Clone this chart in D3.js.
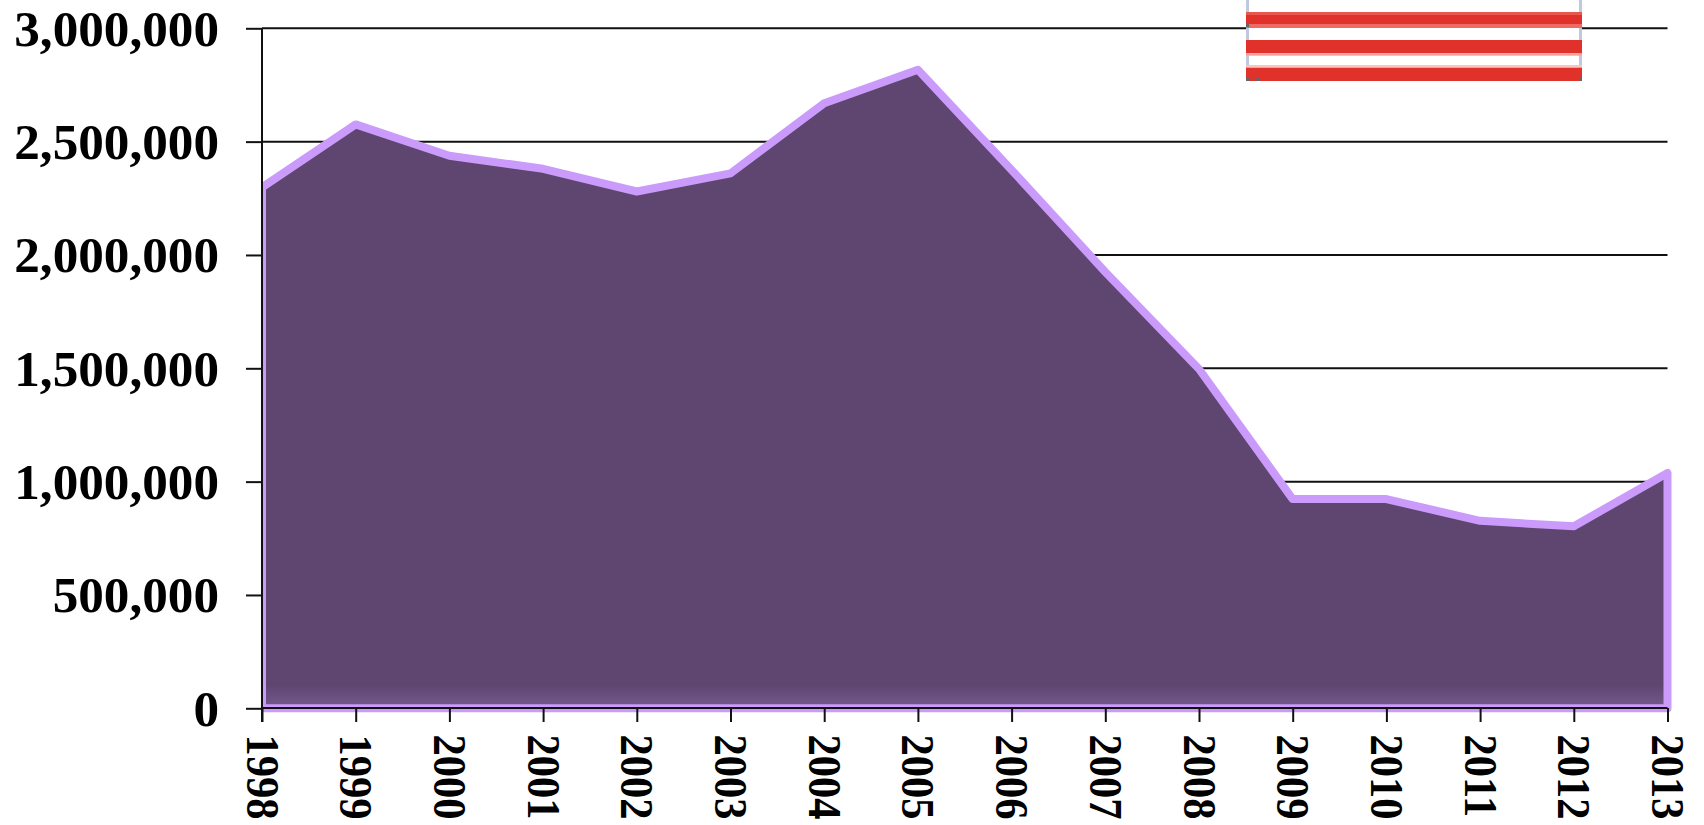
<!DOCTYPE html>
<html><head><meta charset="utf-8">
<script src="https://cdn.jsdelivr.net/npm/d3@7"></script>
<style>
html,body{margin:0;padding:0;background:#fff;overflow:hidden}
svg{display:block}
text{font-family:"Liberation Serif",serif;font-weight:bold;fill:#000}
</style></head><body>
<svg id="c" width="1704" height="825"></svg>
<script>
const years=[1998,1999,2000,2001,2002,2003,2004,2005,2006,2007,2008,2009,2010,2011,2012,2013];
const values=[2298000,2576000,2438000,2380000,2280000,2360000,2669000,2817000,2375000,1925000,1497000,923000,923000,827000,803000,1038000];
const yTickValues=[0,500000,1000000,1500000,2000000,2500000,3000000];

const svg=d3.select("#c");
const x=d3.scaleLinear().domain([1998,2013]).range([262,1667.5]);
const y=d3.scaleLinear().domain([0,3000000]).range([708.3,28.3]);
const defs=svg.append("defs");
const g=defs.append("linearGradient").attr("id","fade").attr("gradientUnits","userSpaceOnUse")
  .attr("x1",0).attr("x2",0).attr("y1",685).attr("y2",708);
g.append("stop").attr("offset",0).attr("stop-color","#5e4671");
g.append("stop").attr("offset",1).attr("stop-color","#75598f");
defs.append("clipPath").attr("id","clipL").append("rect").attr("x",262).attr("y",0).attr("width",1442).attr("height",825);

// gridlines
svg.append("g").selectAll("line").data(yTickValues.slice(1)).join("line")
  .attr("x1",262).attr("x2",1667.5).attr("y1",d=>y(d)).attr("y2",d=>y(d))
  .attr("stroke","#111").attr("stroke-width",2);

// area
const area=d3.area().x((d,i)=>x(years[i])).y0(y(0)).y1(d=>y(d));
svg.append("g").attr("clip-path","url(#clipL)").append("path").datum(values)
  .attr("d",area).attr("fill","url(#fade)").attr("stroke","#cb9bfb")
  .attr("stroke-width",8).attr("stroke-linejoin","round");

// striped emblem at the top edge
const em=svg.append("g");
em.append("rect").attr("x",1246).attr("y",0).attr("width",336).attr("height",81).attr("fill","#fff");
em.selectAll("line").data([1247.5,1580.5]).join("line")
  .attr("x1",d=>d).attr("x2",d=>d).attr("y1",0).attr("y2",81)
  .attr("stroke","#c0c8e0").attr("stroke-width",3);
const emblemBands=[
  {top:12,bottom:15,fill:"#e8574e"},{top:15,bottom:24,fill:"#e0322a"},{top:24,bottom:28,fill:"#ef6a63"},
  {top:40,bottom:53.3,fill:"#e0322a"},{top:53.3,bottom:55.7,fill:"#f5a09a"},
  {top:65,bottom:67.7,fill:"#fcc4c0"},{top:67.7,bottom:81,fill:"#e0322a"}];
em.selectAll("rect.st").data(emblemBands).join("rect").attr("class","st")
  .attr("x",1246).attr("width",336).attr("y",d=>d.top).attr("height",d=>d.bottom-d.top).attr("fill",d=>d.fill);
em.selectAll("rect.dot").data([[1246,24],[1246,78],[1256,78],[1579,78]]).join("rect").attr("class","dot")
  .attr("x",d=>d[0]).attr("y",d=>d[1]).attr("width",3).attr("height",3).attr("fill","#666");

// axes
const axY=d3.axisLeft(y).tickValues(yTickValues).tickFormat(d3.format(",")).tickSize(16).tickPadding(27);
const gy=svg.append("g").attr("transform","translate(262,0)").call(axY);
gy.select(".domain").attr("stroke","#111").attr("stroke-width",2).attr("d","M0,28V722");
gy.selectAll(".tick line").attr("stroke","#111").attr("stroke-width",2);
gy.selectAll("text").attr("font-size",51.2).attr("dy","0.33em").style("font-family",'"Liberation Serif",serif').style("font-weight","bold");

const axX=d3.axisBottom(x).tickValues(years).tickFormat(d3.format("d")).tickSize(14);
const gx=svg.append("g").attr("transform","translate(0,708)").call(axX);
gx.select(".domain").attr("stroke","#111").attr("stroke-width",2).attr("d","M262,0H1667.5");
gx.selectAll(".tick line").attr("stroke","#111").attr("stroke-width",2);
gx.selectAll("text").attr("font-size",46).attr("text-anchor","start").attr("dy",0).attr("y",0)
  .attr("transform","translate(-16,26.5) rotate(90) scale(.925,1)")
  .style("font-family",'"Liberation Serif",serif').style("font-weight","bold");
</script></body></html>
